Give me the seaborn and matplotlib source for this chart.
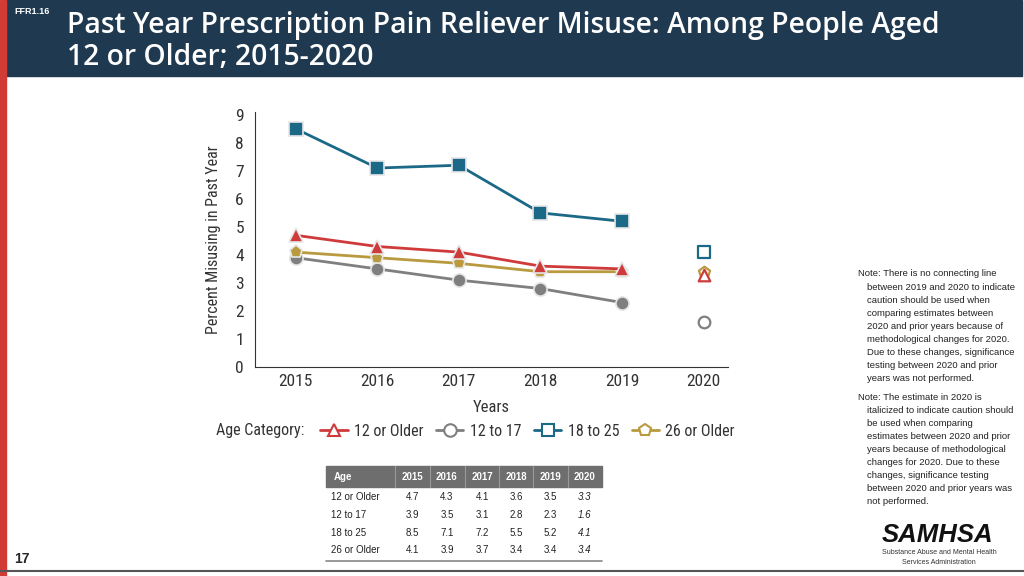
import matplotlib
matplotlib.use("Agg")
import matplotlib.pyplot as plt
from matplotlib.lines import Line2D
from matplotlib.patches import Rectangle
import seaborn as sns
import pandas as pd

# ── Duomenys ──────────────────────────────────────────────────────────────────
years = [2015, 2016, 2017, 2018, 2019, 2020]
groups = ["12 or Older", "12 to 17", "18 to 25", "26 or Older"]
older12 = [4.7, 4.3, 4.1, 3.6, 3.5, 3.3]
age12_17 = [3.9, 3.5, 3.1, 2.8, 2.3, 1.6]
age18_25 = [8.5, 7.1, 7.2, 5.5, 5.2, 4.1]
older26 = [4.1, 3.9, 3.7, 3.4, 3.4, 3.4]
values = [older12, age12_17, age18_25, older26]

colors = ["#cf3b3b", "#7f7f7f", "#1c6987", "#b99a3e"]
markers = ["^", "o", "s", "p"]
palette = dict(zip(groups, colors))
marker_map = dict(zip(groups, markers))
# piešimo tvarka: raudona linija virš auksinės
draw_order = ["12 to 17", "26 or Older", "18 to 25", "12 or Older"]

rows = []
for g, vals in zip(groups, values):
    for y, v in zip(years, vals):
        rows.append({"Year": y, "Age": g, "Value": v})
df = pd.DataFrame(rows)
df_line = df[df["Year"] < 2020]
df_2020 = df[df["Year"] == 2020]

sns.set_style("white")
plt.rcParams["font.family"] = ["Liberation Sans", "DejaVu Sans"]
NARROW = ["Liberation Sans Narrow", "DejaVu Sans Condensed", "Roboto Condensed", "Liberation Sans"]

fig = plt.figure(figsize=(10.24, 5.76), dpi=100)

# puslapio fonas / rėmeliai pikseliais
page = fig.add_axes([0, 0, 1, 1])
page.set_xlim(0, 1024)
page.set_ylim(576, 0)
page.axis("off")
page.add_patch(Rectangle((6, 0), 1016, 76, color="#1f3a50", zorder=1))
page.add_patch(Rectangle((0, 0), 6, 576, color="#d13b35", zorder=2))
page.plot([0, 1024], [571, 571], color="#555555", lw=1.5)
page.text(14, 12, "FFR1.16", color="white", fontsize=6.5, fontweight="bold", va="center")
page.text(67, 25, "Past Year Prescription Pain Reliever Misuse: Among People Aged",
          color="white", fontsize=20.3, fontweight="semibold", family="Open Sans", va="center")
page.text(67, 58, "12 or Older; 2015-2020",
          color="white", fontsize=20.3, fontweight="semibold", family="Open Sans", va="center")
page.text(14, 559, "17", fontsize=10, fontweight="bold", va="center")

# ── Grafikas ─────────────────────────────────────────────────────────────────
ax = fig.add_axes([255 / 1024, 1 - 367 / 576, (728 - 255) / 1024, (367 - 112) / 576])
sns.lineplot(data=df_line, x="Year", y="Value", hue="Age", style="Age",
             palette=palette, markers=marker_map, dashes=False, hue_order=draw_order,
             style_order=draw_order, markersize=9.5, markeredgecolor="#e6e6e6",
             markeredgewidth=1.2, linewidth=2, legend=False, ax=ax)
for g in draw_order:
    d = df_2020[df_2020["Age"] == g]
    ax.scatter(d["Year"], d["Value"], marker=marker_map[g], s=70, facecolors="white",
               edgecolors=palette[g], linewidths=1.6, zorder=5)

ax.set_xlim(2014.5, 2020.3)
ax.set_ylim(0, 9.1)
ax.set_xticks(years)
ax.set_yticks(range(0, 10))
for lab in ax.get_xticklabels() + ax.get_yticklabels():
    lab.set_family(NARROW)
    lab.set_fontsize(12.5)
    lab.set_color("#333333")
ax.set_xlabel("Years", family=NARROW, fontsize=12, color="#333333", labelpad=8)
ax.set_ylabel("Percent Misusing in Past Year", family=NARROW, fontsize=11.5,
              color="#333333", labelpad=10)
for s in ["top", "right"]:
    ax.spines[s].set_visible(False)
ax.spines["left"].set_color("#333333")
ax.spines["bottom"].set_color("#333333")
ax.tick_params(axis="x", length=0, pad=5)
ax.tick_params(axis="y", length=0, pad=8)

# legenda
page.text(216, 431, "Age Category:", family=NARROW, fontsize=11.5, color="#333333", va="center")
handles = [Line2D([], [], color=c, marker=m, markersize=9, markerfacecolor="white",
                  markeredgecolor=c, markeredgewidth=1.5, lw=2)
           for c, m in zip(colors, markers)]
leg = fig.legend(handles, groups, loc="center left", bbox_to_anchor=(306 / 1024, 1 - 431 / 576),
                 ncol=4, frameon=False, handlelength=1.7, handletextpad=0.4,
                 columnspacing=0.8, prop={"family": NARROW, "size": 11.5})
for t in leg.get_texts():
    t.set_color("#333333")

# ── Lentelė ──────────────────────────────────────────────────────────────────
page.add_patch(Rectangle((326, 466), 276, 21, color="#6e6e6e", zorder=1))
col_x = [412, 447, 482, 516, 550, 585]
for x in col_x:
    page.plot([x - 17, x - 17], [466, 487], color="#9a9a9a", lw=0.8)
page.text(334, 476.5, "Age", color="white", fontsize=7, fontweight="bold", va="center")
for x, y in zip(col_x, years):
    page.text(x, 476.5, str(y), color="white", fontsize=7, fontweight="bold",
              va="center", ha="center")
row_y = [497, 515, 533, 550]
for ry, g, vals in zip(row_y, groups, values):
    page.text(331, ry, g, fontsize=7, va="center", color="#222222")
    for i, (x, v) in enumerate(zip(col_x, vals)):
        page.text(x, ry, f"{v:.1f}", fontsize=7, va="center", ha="center", color="#222222",
                  style="italic" if i == 5 else "normal")
page.plot([326, 602], [561, 561], color="#888888", lw=1.2)

# ── Pastabos ─────────────────────────────────────────────────────────────────
note1 = ["Note: There is no connecting line",
         "between 2019 and 2020 to indicate",
         "caution should be used when",
         "comparing estimates between",
         "2020 and prior years because of",
         "methodological changes for 2020.",
         "Due to these changes, significance",
         "testing between 2020 and prior",
         "years was not performed."]
note2 = ["Note: The estimate in 2020 is",
         "italicized to indicate caution should",
         "be used when comparing",
         "estimates between 2020 and prior",
         "years because of methodological",
         "changes for 2020. Due to these",
         "changes, significance testing",
         "between 2020 and prior years was",
         "not performed."]
for i, line in enumerate(note1):
    page.text(858 if i == 0 else 867, 274 + i * 13.1, line, fontsize=6.8, va="center", color="#222222")
for i, line in enumerate(note2):
    page.text(858 if i == 0 else 867, 397 + i * 13.1, line, fontsize=6.8, va="center", color="#222222")

# SAMHSA logotipas
page.text(937, 535, "SAMHSA", fontsize=18.5, fontweight="bold", style="italic",
          ha="center", va="center", color="#111111")
page.text(939, 553, "Substance Abuse and Mental Health", fontsize=5, ha="center",
          va="center", color="#333333")
page.text(939, 562, "Services Administration", fontsize=5, ha="center",
          va="center", color="#333333")

plt.savefig("out.png", dpi=100)
plt.close()
